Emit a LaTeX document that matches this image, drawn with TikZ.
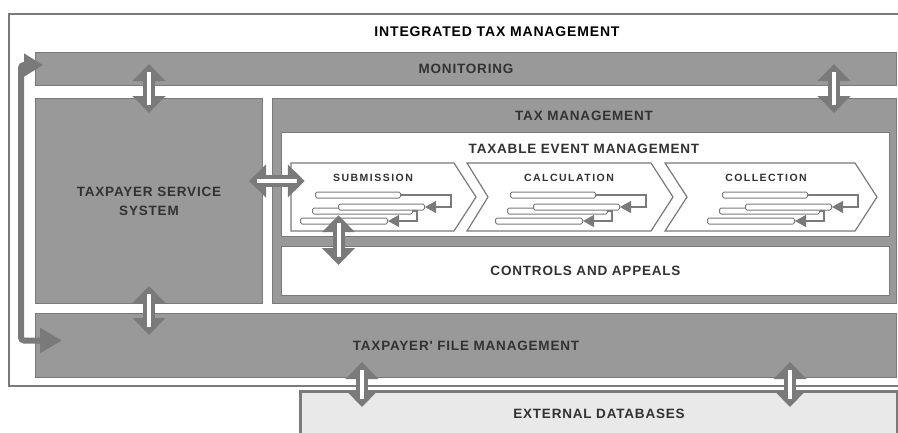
\documentclass[tikz,border=0pt]{standalone}
\usepackage{fontspec}
\setmainfont{Liberation Sans}
\newfontfamily\lblfont[LetterSpace=6]{Liberation Sans}
\newfontfamily\chvfont[LetterSpace=14]{Liberation Sans}
\usepackage{tikz}
\usetikzlibrary{arrows.meta, calc}
\definecolor{boxgray}{RGB}{153,153,153}
\definecolor{edgegray}{RGB}{122,122,122}
\definecolor{txtgray}{RGB}{50,50,50}
\definecolor{extgray}{RGB}{233,233,233}

\begin{document}
\begin{tikzpicture}[x=1pt, y=-1pt,
	graybox/.style={draw=edgegray, fill=boxgray, line width=1pt, inner sep=0pt, anchor=north west, text=txtgray, font=\lblfont\bfseries\fontsize{13.5}{19}\selectfont, align=center},
	whitebox/.style={graybox, fill=white},
	lbl/.style={text=txtgray, font=\lblfont\bfseries\fontsize{13.5}{19}\selectfont},
	chvlbl/.style={text=txtgray, font=\chvfont\bfseries\fontsize{10.5}{12}\selectfont},
	chev/.style={draw=edgegray, fill=white, line width=1.2pt},
	bar/.style={draw=edgegray, fill=white, line width=1pt, rounded corners=1.5pt, minimum height=6pt, inner sep=0pt, anchor=west},
	barline/.style={draw=edgegray, line width=1.2pt, -{Triangle[width=12pt,length=11pt]}},
	dblarr/.style={draw=edgegray, line width=12pt, {Triangle[width=32pt,length=17pt]}-{Triangle[width=32pt,length=17pt]}, postaction={draw=white, line width=4pt, arrows=-, shorten <=8pt, shorten >=8pt}},
	loopline/.style={draw=edgegray, line width=6pt, rounded corners=3pt, {Triangle[width=22pt,length=19pt]}-{Triangle[width=24pt,length=22pt]}}]
	\useasboundingbox (0,0) rectangle (898,432);
	%\draw[help lines, step=50] (0,0) grid (898,432);
	\node[whitebox, line width=2pt, minimum width=897, minimum height=372] (frame) at (8,13) {};
	\node[lbl, font=\lblfont\bfseries\fontsize{14}{19}\selectfont, text=black] (title) at (497,32) {INTEGRATED TAX MANAGEMENT};
	\node[graybox, minimum width=861, minimum height=33] (mon) at (35,52) {MONITORING};
	\node[graybox, minimum width=227, minimum height=205] (tss) at (35,98) {TAXPAYER SERVICE\\SYSTEM};
	\node[graybox, minimum width=624, minimum height=205] (tm) at (272,98) {};
	\node[lbl] (tmlbl) at (584,116) {TAX MANAGEMENT};
	\node[whitebox, minimum width=608, minimum height=104] (tem) at (281,132) {};
	\node[lbl] (temlbl) at (584,149) {TAXABLE EVENT MANAGEMENT};
	\node[whitebox, minimum width=608, minimum height=49] (ca) at (281,246) {CONTROLS AND APPEALS};
	\node[graybox, minimum width=861, minimum height=64] (tfm) at (35,313) {TAXPAYER' FILE MANAGEMENT};
	\node[graybox, fill=extgray, line width=3pt, minimum width=597, minimum height=44] (ext) at (299,390) {EXTERNAL DATABASES};

	\foreach \nm/\l/\d/\r/\a/\tx/\t in {sub/291/0/476/315/373/SUBMISSION, calc/467/21/673/510/569/CALCULATION, coll/665/22/877/722/766/COLLECTION}{
		\draw[chev] (\l,163) -- ({\r-22},163) -- (\r,197) -- ({\r-22},231) -- (\l,231) -- ({\l+\d},197) -- cycle;
		\node[minimum width={\r-\l}, minimum height=68, inner sep=0pt] (\nm) at ({(\l+\r)/2},197) {};
		\node[chvlbl] (\nm-t) at (\tx,178) {\t};
		\node[bar, minimum width=85] (\nm-a) at (\a,195) {};
		\node[bar, minimum width=100] (\nm-b) at ({\a-3},211) {};
		\node[bar, minimum width=86] (\nm-c) at ({\a+23},207) {};
		\node[bar, minimum width=87] (\nm-d) at ({\a-15},221) {};
		\draw[barline] (\nm-a.east) -- ++(50,0) |- (\nm-c.east);
		\draw[barline] (\nm-b.east) -- ++(4,0) |- (\nm-d.east);
	}

	\draw[loopline] ($(mon.west)+(8,-4)$) -| ($(frame.west |- tfm.west)+(13,-5)$) -- ($(tfm.west)+(27,-5)$);
	\draw[dblarr] ($(mon.south -| tss)+(0,-22)$) -- ($(tss.north)+(0,15)$);
	\draw[dblarr] ($(mon.south east)+(-63,-22)$) -- ($(tm.north east)+(-63,15)$);
	\draw[dblarr] ($(tss.east |- sub)+(-14,-16)$) -- ($(sub.west)+(14,-16)$);
	\draw[dblarr] ($(sub.south)+(-45,-16)$) -- ($(sub.south |- ca.north)+(-45,19)$);
	\draw[dblarr] ($(tss.south)+(0,-18)$) -- ($(tfm.north -| tss)+(0,22)$);
	\draw[dblarr] ($(tfm.south -| ext.north west)+(63,-16)$) -- ($(ext.north west)+(63,17)$);
	\draw[dblarr] ($(tfm.south -| ext.north east)+(-109,-16)$) -- ($(ext.north east)+(-109,17)$);
\end{tikzpicture}
\end{document}
